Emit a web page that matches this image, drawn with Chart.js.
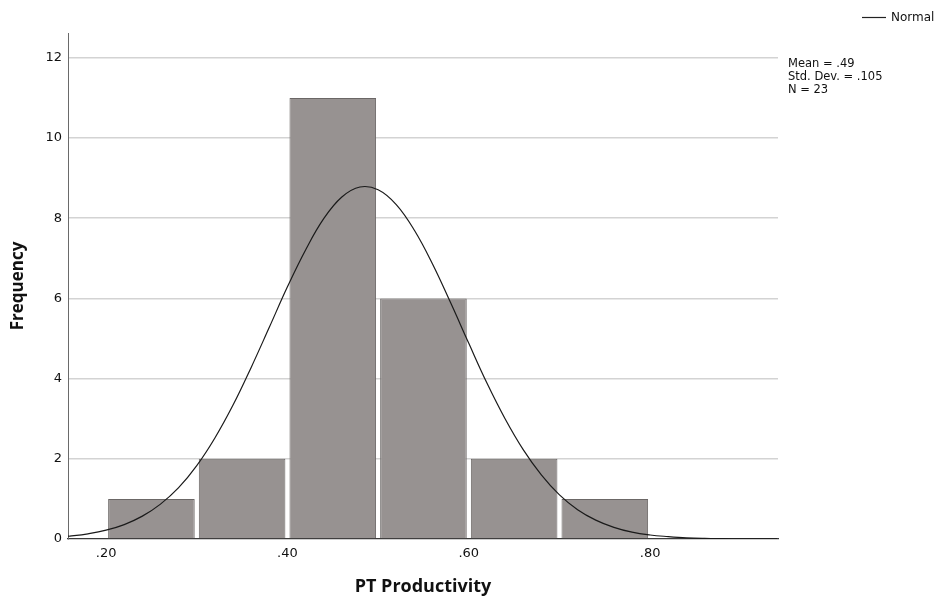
<!DOCTYPE html>
<html>
<head>
<meta charset="utf-8">
<script src="https://cdn.jsdelivr.net/npm/chart.js@4/dist/chart.umd.min.js"></script>
<style>
  html, body { margin: 0; padding: 0; background: #ffffff; }
  #wrap { width: 941px; height: 600px; }
</style>
</head>
<body>
<div id="wrap"><canvas id="c" width="941" height="600"></canvas></div>
<script>
// ---- data ----
const binCenters = [0.25, 0.35, 0.45, 0.55, 0.65, 0.75];
const frequencies = [1, 2, 11, 6, 2, 1];

const curveX = [0.158, 0.16, 0.18, 0.20, 0.22, 0.24, 0.26, 0.28, 0.30, 0.32, 0.34, 0.36, 0.38, 0.40,
                0.42, 0.44, 0.46, 0.48, 0.50, 0.52, 0.54, 0.56, 0.58, 0.60, 0.62, 0.64, 0.66, 0.68,
                0.70, 0.72, 0.74, 0.76, 0.78, 0.80, 0.82, 0.84, 0.86, 0.88, 0.90, 0.92, 0.94];
const curveY = [0.07, 0.07, 0.13, 0.22, 0.36, 0.57, 0.87, 1.28, 1.83, 2.52, 3.34, 4.28, 5.28, 6.29,
                7.21, 7.99, 8.53, 8.78, 8.71, 8.34, 7.70, 6.86, 5.89, 4.88, 3.89, 3.00, 2.23, 1.60,
                1.10, 0.73, 0.47, 0.29, 0.17, 0.10, 0.06, 0.03, 0.015, 0.008, 0.004, 0.002, 0.001];

const xTickValues = [0.2, 0.4, 0.6, 0.8];
const xTickLabels = ['.20', '.40', '.60', '.80'];
const yTickValues = [0, 2, 4, 6, 8, 10, 12];

const xTitle = 'PT Productivity';
const yTitle = 'Frequency';
const legendLabel = 'Normal';
const statLines = ['Mean = .49', 'Std. Dev. = .105', 'N = 23'];

// ---- chart ----
const barData = binCenters.map((x, i) => ({ x: x, y: frequencies[i] }));
const curveData = curveX.map((x, i) => ({ x: x, y: curveY[i] }));

const tickFont = { family: 'DejaVu Sans', size: 13 };

const overlay = {
  id: 'overlay',
  afterDraw(chart) {
    const ctx = chart.ctx;
    ctx.save();
    // legend
    ctx.strokeStyle = '#222';
    ctx.lineWidth = 1.2;
    ctx.beginPath();
    ctx.moveTo(862, 17.5);
    ctx.lineTo(886, 17.5);
    ctx.stroke();
    ctx.fillStyle = '#111';
    ctx.font = '12px "DejaVu Sans"';
    ctx.textBaseline = 'middle';
    ctx.textAlign = 'left';
    ctx.fillText(legendLabel, 891, 18);
    // statistics
    ctx.font = '11.5px "DejaVu Sans"';
    statLines.forEach((t, i) => ctx.fillText(t, 788, 64.5 + i * 12.8));
    ctx.restore();
  }
};

new Chart(document.getElementById('c'), {
  type: 'bar',
  data: {
    datasets: [
      {
        type: 'line',
        data: curveData,
        borderColor: '#1a1a1a',
        borderWidth: 1.2,
        pointRadius: 0,
        tension: 0.4,
        fill: false,
        order: 0
      },
      {
        type: 'bar',
        data: barData,
        backgroundColor: '#979291',
        borderColor: '#6b6766',
        borderWidth: 1,
        categoryPercentage: 1.0,
        barPercentage: 0.955,
        order: 1
      }
    ]
  },
  options: {
    responsive: false,
    animation: false,
    layout: { padding: { top: 33, right: 163, left: 0, bottom: 0 } },
    plugins: { legend: { display: false }, tooltip: { enabled: false } },
    scales: {
      x: {
        type: 'linear',
        min: 0.158,
        max: 0.941,
        offset: false,
        grid: { display: false, drawTicks: false },
        border: { display: true, color: '#3a3a3a', width: 1.2 },
        afterBuildTicks(scale) { scale.ticks = xTickValues.map(v => ({ value: v })); },
        afterFit(scale) { scale.height = 61; },
        ticks: {
          font: tickFont,
          color: '#111',
          padding: 7,
          maxRotation: 0,
          callback(value) {
            const i = xTickValues.findIndex(v => Math.abs(v - value) < 1e-9);
            return i >= 0 ? xTickLabels[i] : '';
          }
        },
        title: { display: true, text: xTitle, font: { family: 'Open Sans', size: 18, weight: 'bold' }, color: '#111', padding: { top: 2, bottom: 2 } }
      },
      y: {
        type: 'linear',
        min: 0,
        max: 12.62,
        grid: {
          drawTicks: false,
          color: (c) => (c.tick && c.tick.value === 0 ? 'rgba(0,0,0,0)' : '#d3d3d3'),
          lineWidth: 1.5
        },
        border: { display: true, color: '#6a6a6a', width: 1 },
        afterBuildTicks(scale) { scale.ticks = yTickValues.map(v => ({ value: v })); },
        afterFit(scale) { scale.width = 68; },
        ticks: { font: tickFont, color: '#111', padding: 6 },
        title: { display: true, text: yTitle, font: { family: 'Open Sans', size: 17, weight: 'bold' }, color: '#111', padding: { top: 8, bottom: 8 } }
      }
    }
  },
  plugins: [overlay]
});
</script>
</body>
</html>
